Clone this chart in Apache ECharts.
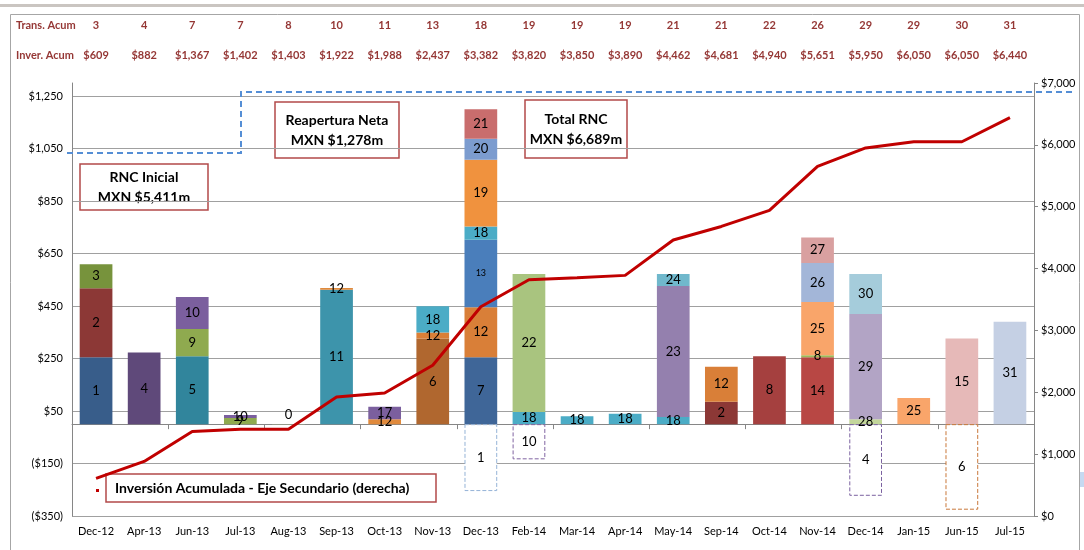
<!DOCTYPE html>
<html>
<head>
<meta charset="utf-8">
<script src="https://cdn.jsdelivr.net/npm/echarts@6/dist/echarts.min.js"></script>
<style>
html, body { margin: 0; padding: 0; background: #fff; }
#chart { width: 1084px; height: 550px; }
</style>
</head>
<body>
<div id="chart"></div>
<script>
// datos del grafico
const categories = ['Dec-12', 'Apr-13', 'Jun-13', 'Jul-13', 'Aug-13', 'Sep-13', 'Oct-13', 'Nov-13', 'Dec-13', 'Feb-14',
    'Mar-14', 'Apr-14', 'May-14', 'Sep-14', 'Oct-14', 'Nov-14', 'Dec-14', 'Jan-15', 'Jun-15', 'Jul-15']
const transAcum = [3, 4, 7, 7, 8, 10, 11, 13, 18, 19, 19, 19, 21, 21, 22, 26, 29, 29, 30, 31]
const inverAcum = [609, 882, 1367, 1402, 1403, 1922, 1988, 2437, 3382, 3820, 3850, 3890, 4462, 4681, 4940, 5651, 5950, 6050, 6050, 6440]
// proyectos apilados por mes (de abajo hacia arriba)
const segProject = [[1, 2, 3], [4], [5, 9, 10], [9, 10], [0], [11, 12], [12, 17], [6, 12, 18], [7, 12, 13, 18, 19, 20, 21], [18, 22],
    [18], [18], [18, 23, 24], [2, 12], [8], [14, 8, 25, 26, 27], [28, 29, 30], [25], [15], [31]]
const segValue = [[255, 263, 91], [273], [259, 104, 122], [23, 12], [1], [512, 7], [19, 47], [326, 23, 100], [255, 190, 258, 50, 255, 80, 112], [46, 526],
    [30], [40], [27, 499, 46], [85, 134], [259], [255, 8, 202, 149, 97], [19, 401, 152], [100], [326], [390]]
// proyectos cancelados (negativos)
const cancelProject = [null, null, null, null, null, null, null, null, 1, 10, null, null, null, null, null, null, 4, null, 6, null]
const cancelValue = [null, null, null, null, null, null, null, null, -255, -134, null, null, null, null, null, null, -273, null, -326, null]

// colores de cada segmento
const segColor = [
    ['#385d8a', '#8c3836', '#77933c'], ['#5f497a'], ['#31859c', '#8faa4f', '#7b5f9e'], ['#8faa4f', '#7b5f9e'], ['#c3d69b'],
    ['#3d94ab', '#e08a3c'], ['#e08a3c', '#7b5f9e'], ['#b0672f', '#da7f37', '#4bacc6'],
    ['#3f6698', '#d97f38', '#4a7ebb', '#4bacc6', '#f0923e', '#7c9ccf', '#c96d6d'], ['#4bacc6', '#a9c47f'],
    ['#4bacc6'], ['#4bacc6'], ['#4bacc6', '#9480ae', '#70b8cc'], ['#8c3836', '#d97f38'], ['#a5403f'],
    ['#b84744', '#9bbb59', '#f9a56a', '#a3b6d8', '#d9a0a0'], ['#c3d69b', '#b2a4c5', '#a5ccdb'], ['#f9a56a'], ['#e6b9b8'], ['#c5d0e4']
]
const cancelColor = { 8: '#95b3d7', 9: '#8064a2', 16: '#7b62a0', 18: '#c9783a' }
const labelTweak = { '4-0': { position: 'top', distance: 3 }, '8-2': { fontSize: 9 } }

const FONT = 'Lato'
const red = '#953735'

function money(v) {
    let s = '$' + Math.abs(v).toLocaleString('en-US')
    return v < 0 ? '(' + s + ')' : s
}

let chart = echarts.init(document.getElementById('chart'))

let maxLayers = Math.max(...segValue.map(s => s.length))
let series = []
for (let i = 0; i < maxLayers; i++) {
    series.push({
        type: 'bar',
        stack: 'rnc',
        barWidth: '68%',
        xAxisIndex: 0,
        yAxisIndex: 0,
        label: {
            show: true, position: 'inside', color: '#000', fontSize: 13, fontFamily: FONT,
            formatter: p => String(segProject[p.dataIndex][i])
        },
        data: categories.map((c, j) => {
            if (segValue[j][i] == null) return '-'
            let item = { value: segValue[j][i], itemStyle: { color: segColor[j][i] } }
            if (labelTweak[j + '-' + i]) item.label = labelTweak[j + '-' + i]
            return item
        })
    })
}
series.push({
    type: 'bar',
    stack: 'rnc',
    barWidth: '68%',
    label: {
        show: true, position: 'inside', color: '#000', fontSize: 13, fontFamily: FONT,
        formatter: p => String(cancelProject[p.dataIndex])
    },
    data: cancelValue.map((v, j) => v == null ? '-' : {
        value: v,
        itemStyle: { color: '#fff', borderColor: cancelColor[j], borderType: 'dashed', borderWidth: 1 }
    })
})
series.push({
    type: 'line',
    yAxisIndex: 1,
    data: inverAcum,
    symbol: 'none',
    z: 5,
    lineStyle: { color: '#c00000', width: 3 }
})

function box(x, y, w, h, lines, align) {
    return {
        type: 'group', z: 100,
        children: [
            { type: 'rect', shape: { x: x, y: y, width: w, height: h }, style: { fill: '#fff', stroke: '#b24a4a', lineWidth: 1.5 } },
            {
                type: 'text', x: align === 'left' ? x + 9 : x + w / 2, y: y + h / 2,
                style: {
                    text: lines.join('\n'), font: 'bold 14px ' + FONT, fill: '#000',
                    align: align || 'center', verticalAlign: 'middle', lineHeight: 20
                }
            }
        ]
    }
}

let option = {
    animation: false,
    backgroundColor: '#fff',
    textStyle: { fontFamily: FONT },
    grid: { left: 72, right: 50, top: 83, bottom: 34, containLabel: false },
    xAxis: [
        {
            type: 'category', data: categories, position: 'bottom',
            axisLine: { show: false, onZero: false }, axisTick: { show: false },
            axisLabel: { interval: 0, color: '#000', fontSize: 11, margin: 10, fontFamily: FONT }
        },
        {
            type: 'category', data: categories, position: 'bottom',
            axisLine: { show: true, onZero: true, onZeroAxisIndex: 0, lineStyle: { color: '#868686' } },
            axisTick: { show: true, length: 5, lineStyle: { color: '#868686' } },
            axisLabel: { show: false }
        },
        {
            type: 'category', data: categories, position: 'top', offset: 52,
            axisLine: { show: false }, axisTick: { show: false },
            axisLabel: { interval: 0, margin: 0, color: red, fontWeight: 'bold', fontSize: 11, fontFamily: FONT, formatter: (v, i) => String(transAcum[i]) }
        },
        {
            type: 'category', data: categories, position: 'top', offset: 22,
            axisLine: { show: false }, axisTick: { show: false },
            axisLabel: { interval: 0, margin: 0, color: red, fontWeight: 'bold', fontSize: 11, fontFamily: FONT, formatter: (v, i) => money(inverAcum[i]) }
        }
    ],
    yAxis: [
        {
            type: 'value', min: -350, max: 1300, interval: 50,
            axisLine: { show: true, lineStyle: { color: '#868686' } },
            axisTick: { show: false },
            axisLabel: { color: '#000', fontSize: 11, margin: 9, fontFamily: FONT, formatter: v => ((v + 350) % 200 === 0 ? money(v) : '') },
            splitLine: { show: true, lineStyle: { color: ['#a0a0a0', 'rgba(0,0,0,0)', 'rgba(0,0,0,0)', 'rgba(0,0,0,0)'] } }
        },
        {
            type: 'value', min: 0, max: 7000, interval: 1000, position: 'right',
            axisLine: { show: true, lineStyle: { color: '#868686' } },
            axisTick: { show: true, length: 4, lineStyle: { color: '#868686' } },
            axisLabel: { color: '#000', fontSize: 11, margin: 7, fontFamily: FONT, formatter: v => money(v) },
            splitLine: { show: false }
        }
    ],
    series: series,
    graphic: [
        { type: 'rect', z: 0, shape: { x: 0, y: 4, width: 1084, height: 3 }, style: { fill: '#cac5c1' } },
        { type: 'rect', z: 0, shape: { x: 10.5, y: 14.5, width: 1069, height: 560 }, style: { fill: 'none', stroke: '#a6a6a6', lineWidth: 1 } },
        { type: 'rect', z: 0, shape: { x: 1080, y: 472, width: 4, height: 15 }, style: { fill: '#c6d9f1' } },
        { type: 'text', x: 16, y: 25, style: { text: 'Trans. Acum', font: 'bold 11px ' + FONT, fill: red, verticalAlign: 'middle' } },
        { type: 'text', x: 16, y: 55, style: { text: 'Inver. Acum', font: 'bold 11px ' + FONT, fill: red, verticalAlign: 'middle' } },
        {
            type: 'polyline', z: 90,
            shape: { points: [[67, 153], [241, 153], [241, 92], [1075, 92]] },
            style: { fill: 'none', stroke: '#558ed5', lineWidth: 2, lineDash: [6, 4] }
        },
        box(80, 164, 128, 46, ['RNC Inicial', 'MXN $5,411m']),
        box(275, 102, 124, 56, ['Reapertura Neta', 'MXN $1,278m']),
        box(525, 100, 102, 58, ['Total RNC', 'MXN $6,689m']),
        box(106, 474, 330, 28, ['Inversión Acumulada - Eje Secundario (derecha)'], 'left'),
        { type: 'rect', z: 100, shape: { x: 96, y: 489, width: 3, height: 3 }, style: { fill: '#c00000' } }
    ]
}

chart.setOption(option)
</script>
</body>
</html>
